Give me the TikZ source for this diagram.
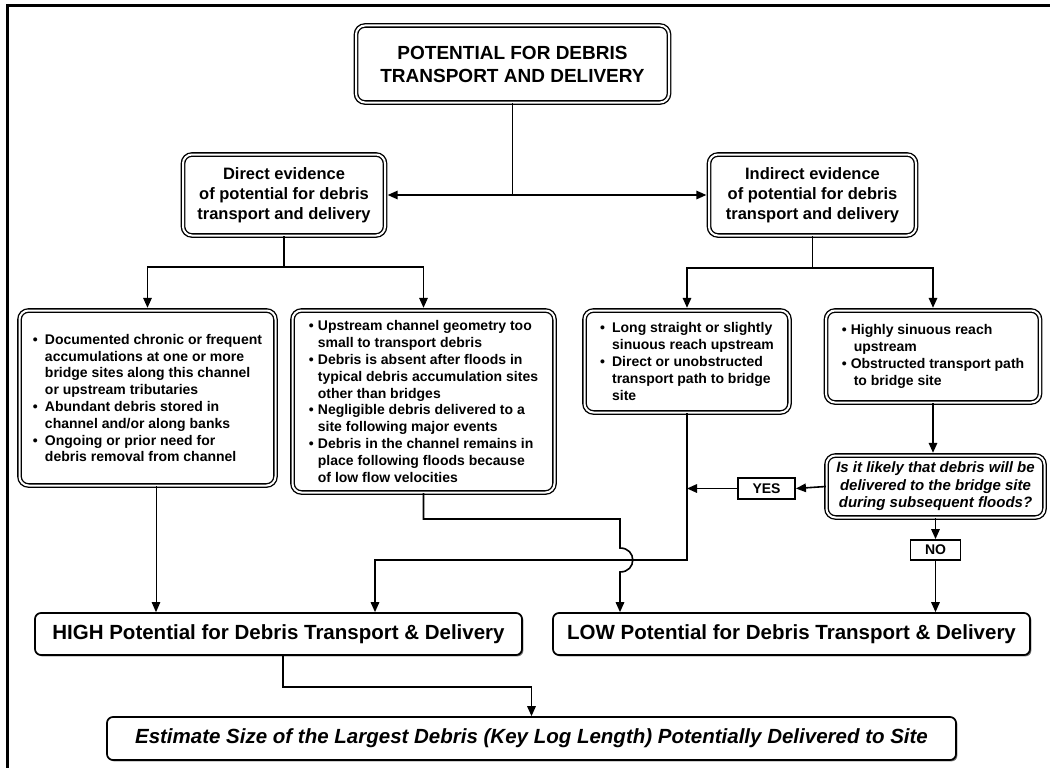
\documentclass[tikz,border=0pt]{standalone}
\usepackage{fontspec}
\setmainfont{Liberation Sans}
\usetikzlibrary{arrows.meta,shadows}
\newcommand\bl[1][11pt]{\makebox[#1][l]{\textbullet}}
\newcommand\ct[1][11pt]{\hspace*{#1}}
\begin{document}
\begin{tikzpicture}[x=1pt,y=-1pt,
  dbl/.style={draw, double=white, double distance=2pt, line width=1.35pt, rounded corners=9pt, fill=white, inner sep=0pt, align=center},
  sgl/.style={draw, line width=1.7pt, rounded corners=6pt, fill=white, inner sep=0pt, align=center,
     drop shadow={shadow xshift=1.4pt, shadow yshift=-1.4pt, fill=black!55, opacity=1}},
  lbl/.style={draw, line width=1.9pt, fill=white, inner sep=0pt, font=\bfseries\fontsize{14}{16}\selectfont},
  con/.style={line width=1.6pt, -{Triangle[length=10pt,width=8.5pt]}},
  thn/.style={line width=1pt},
  thnarr/.style={line width=1pt, -{Triangle[length=10pt,width=8.5pt]}},
  mid/.style={font=\bfseries\fontsize{16.5}{20}\selectfont},
  bul/.style={font=\bfseries\fontsize{14}{16.8}\selectfont, align=left}
]
\useasboundingbox (0,0) rectangle (1050,768);
% frame (top and left only)
\draw[line width=3pt] (7,768) -- (7,6) -- (1050,6);

% nodes
\node[dbl, minimum width=313pt, minimum height=77pt, font=\bfseries\fontsize{19}{23}\selectfont] (top) at (512.5,64)
  {POTENTIAL FOR DEBRIS\\TRANSPORT AND DELIVERY};
\node[dbl, mid, minimum width=202pt, minimum height=81pt] (direct) at (284,195)
  {Direct evidence\\of potential for debris\\transport and delivery};
\node[dbl, mid, minimum width=207pt, minimum height=81pt] (indirect) at (812.5,195)
  {Indirect evidence\\of potential for debris\\transport and delivery};

\node[dbl, bul, minimum width=256pt, minimum height=175pt] (A) at (147.5,398)
  {\bl[12pt]Documented chronic or frequent\\
   \ct[12pt]accumulations at one or more\\
   \ct[12pt]bridge sites along this channel\\
   \ct[12pt]or upstream tributaries\\
   \bl[12pt]Abundant debris stored in\\
   \ct[12pt]channel and/or along banks\\
   \bl[12pt]Ongoing or prior need for\\
   \ct[12pt]debris removal from channel};
\node[dbl, bul, minimum width=262pt, minimum height=182pt] (B) at (423.5,401.5)
  {\bl[9pt]Upstream channel geometry too\\
   \ct[9pt]small to transport debris\\
   \bl[9pt]Debris is absent after floods in\\
   \ct[9pt]typical debris accumulation sites\\
   \ct[9pt]other than bridges\\
   \bl[9pt]Negligible debris delivered to a\\
   \ct[9pt]site following major events\\
   \bl[9pt]Debris in the channel remains in\\
   \ct[9pt]place following floods because\\
   \ct[9pt]of low flow velocities};
\node[dbl, bul, minimum width=205pt, minimum height=102pt] (C) at (687,361.5)
  {\bl[12pt]Long straight or slightly\\
   \ct[12pt]sinuous reach upstream\\
   \bl[12pt]Direct or unobstructed\\
   \ct[12pt]transport path to bridge\\
   \ct[12pt]site};
\node[dbl, bul, minimum width=214pt, minimum height=92pt] (D) at (933,356.5)
  {\bl[9pt]Highly sinuous reach\\
   \ct[12pt]upstream\\
   \bl[9pt]Obstructed transport path\\
   \ct[12pt]to bridge site};
\node[dbl, minimum width=218pt, minimum height=62pt, font=\bfseries\itshape\fontsize{15}{17.5}\selectfont] (E) at (935.5,486.5)
  {Is it likely that debris will be\\delivered to the bridge site\\during subsequent floods?};

\node[lbl, minimum width=57pt, minimum height=21pt] (YES) at (766.5,488.5) {YES};
\node[lbl, minimum width=50pt, minimum height=20pt] (NO) at (935.5,550) {NO};

\node[sgl, minimum width=487pt, minimum height=42pt, font=\bfseries\fontsize{20.5}{24}\selectfont] (HIGH) at (278.5,634)
  {HIGH Potential for Debris Transport \& Delivery};
\node[sgl, minimum width=477pt, minimum height=42pt, font=\bfseries\fontsize{20.5}{24}\selectfont] (LOW) at (791.5,634)
  {LOW Potential for Debris Transport \& Delivery};
\node[sgl, minimum width=849pt, minimum height=43pt, font=\bfseries\itshape\fontsize{20.5}{24}\selectfont] (final) at (531.5,738.5)
  {Estimate Size of the Largest Debris (Key Log Length) Potentially Delivered to Site};

% coordinates
\coordinate (j0) at (512.5,195);
\coordinate (j1) at (284,267);
\coordinate (j2) at (812.5,268);
\coordinate (h1) at (375,560);
\coordinate (b1) at (620,519);
\coordinate (f1) at (531.5,687);

% connectors
\draw[thn] (top.south) -- (j0);
\draw[line width=1.6pt, {Triangle[length=10pt,width=8.5pt]}-{Triangle[length=10pt,width=8.5pt]}, shorten <=2pt, shorten >=2pt] (direct.east) -- (indirect.west);
\draw[con, shorten >=2pt] (direct.south) -- (j1) -| (A.north);
\draw[con, shorten >=2pt] (j1) -| (B.north);
\draw[con, shorten >=2pt] (indirect.south) -- (j2) -| (C.north);
\draw[con, shorten >=2pt] (j2) -| (D.north);
\draw[con, shorten >=2pt] (D.south) -- (D.south |- E.north);
\draw[con] (E.west) -- (YES.east);
\draw[con] (YES.west) -- (YES.west -| C.south);
\draw[con] (C.south) |- (h1) -- (h1 |- HIGH.north);
\draw[thnarr] ([xshift=8.5pt]A.south) -- ([xshift=8.5pt]A.south |- HIGH.north);
\draw[con] (B.south) |- (b1) -- (620,548) .. controls (637,548) and (637,572) .. (620,572) -- (b1 |- LOW.north);
\draw[con] (E.south) -- (NO.north);
\draw[con] (NO.south) -- (NO.south |- LOW.north);
\draw[con] ([xshift=4.5pt]HIGH.south) |- (f1) -- (final.north);
\end{tikzpicture}
\end{document}
